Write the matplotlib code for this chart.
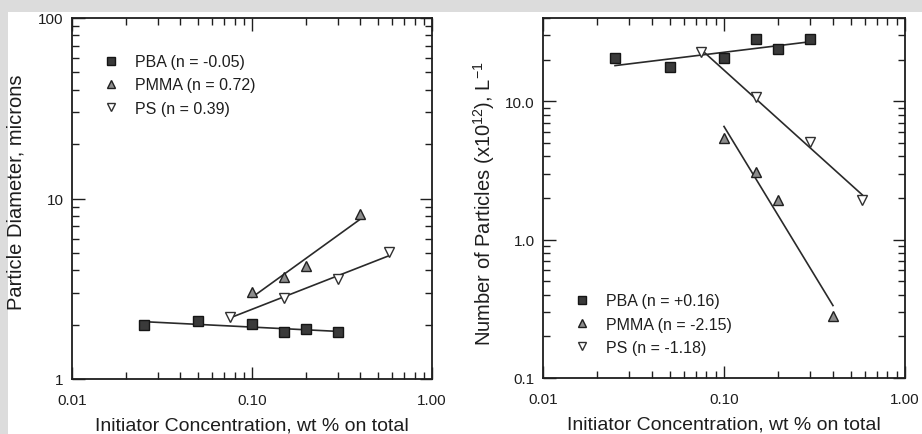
import numpy as np
import matplotlib
matplotlib.use("Agg")
import matplotlib.pyplot as plt
from matplotlib.patches import Rectangle
from matplotlib.ticker import LogLocator, NullFormatter

plt.rcParams['font.family'] = ['Liberation Sans', 'DejaVu Sans']
plt.rcParams['mathtext.default'] = 'regular'

# ---- data: initiator concentration (wt % on total) ----
x_pba = [0.025, 0.05, 0.10, 0.15, 0.20, 0.30]
x_pmma = [0.10, 0.15, 0.20, 0.40]
x_ps = [0.075, 0.15, 0.30, 0.58]

# particle diameter, microns
d_pba = [1.99, 2.10, 2.02, 1.82, 1.89, 1.82]
d_pmma = [3.03, 3.67, 4.23, 8.2]
d_ps = [2.2, 2.81, 3.58, 5.05]

# number of particles (x10^12), per litre
n_pba = [20.4, 17.6, 20.4, 28.0, 23.7, 28.0]
n_pmma = [5.4, 3.07, 1.93, 0.28]
n_ps = [22.6, 10.7, 5.1, 1.93]

# power-law exponents of the fitted lines
exp_diam = {"PBA": -0.05, "PMMA": 0.72, "PS": 0.39}
exp_num = {"PBA": 0.16, "PMMA": -2.15, "PS": -1.18}

labels_diam = ["PBA (n = -0.05)", "PMMA (n = 0.72)", "PS (n = 0.39)"]
labels_num = ["PBA (n = +0.16)", "PMMA (n = -2.15)", "PS (n = -1.18)"]

xticks = [0.01, 0.1, 1.0]
xtick_labels = ["0.01", "0.10", "1.00"]
yticks_diam = [1, 10, 100]
ytick_labels_diam = ["1", "10", "100"]
yticks_num = [0.1, 1.0, 10.0]
ytick_labels_num = ["0.1", "1.0", "10.0"]

xlabel = "Initiator Concentration, wt % on total"
ylabel_diam = "Particle Diameter, microns"
ylabel_num = "Number of Particles (x10$^{12}$), L$^{-1}$"

INK = "#1e1e1e"
styles = {
    "PBA": dict(marker="s", mfc="#3a3a3a", mec="#151515", ms=6.5),
    "PMMA": dict(marker="^", mfc="#8c8c8c", mec="#202020", ms=7),
    "PS": dict(marker="v", mfc="white", mec="#303030", ms=7),
}

fig = plt.figure(figsize=(9.22, 4.35), dpi=100, facecolor="#dcdcdc")
fig.patches.append(Rectangle((8 / 922, 0), 1 - 8 / 922, 1 - 13 / 435,
                             transform=fig.transFigure, facecolor="white",
                             edgecolor="none", zorder=-10))

ax1 = fig.add_axes([72 / 922, 55 / 435, 360 / 922, 361 / 435])
ax2 = fig.add_axes([543 / 922, 56 / 435, 362 / 922, 360 / 435])


def fit_line(ax, xs, ys, n):
    xs = np.asarray(xs, float)
    ys = np.asarray(ys, float)
    loga = np.mean(np.log10(ys) - n * np.log10(xs))
    xx = np.array([xs.min(), xs.max()])
    ax.plot(xx, 10 ** loga * xx ** n, color="#2a2a2a", lw=1.2, zorder=2)


def draw(ax, series, exps, labels):
    handles = []
    for (name, xs, ys), lab in zip(series, labels):
        fit_line(ax, xs, ys, exps[name])
        h, = ax.plot(xs, ys, ls="none", mew=1.0, zorder=3, label=lab,
                     **styles[name])
        handles.append(h)
    return handles


h1 = draw(ax1, [("PBA", x_pba, d_pba), ("PMMA", x_pmma, d_pmma),
                ("PS", x_ps, d_ps)], exp_diam, labels_diam)
h2 = draw(ax2, [("PBA", x_pba, n_pba), ("PMMA", x_pmma, n_pmma),
                ("PS", x_ps, n_ps)], exp_num, labels_num)

for ax in (ax1, ax2):
    ax.set_xscale("log")
    ax.set_yscale("log")
    ax.set_xlim(0.01, 1.0)
    ax.set_xticks(xticks)
    ax.set_xticklabels(xtick_labels)
    ax.xaxis.set_minor_locator(LogLocator(base=10, subs=np.arange(2, 10)))
    ax.yaxis.set_minor_locator(LogLocator(base=10, subs=np.arange(2, 10)))
    ax.xaxis.set_minor_formatter(NullFormatter())
    ax.yaxis.set_minor_formatter(NullFormatter())
    ax.tick_params(which="both", direction="in", top=True, right=True,
                   colors=INK, labelcolor=INK, labelsize=11, width=1.0)
    ax.tick_params(which="major", length=9, pad=6)
    ax.tick_params(axis="x", which="major", pad=10)
    ax.tick_params(which="minor", length=5)
    for sp in ax.spines.values():
        sp.set_linewidth(1.3)
        sp.set_color(INK)
    ax.set_xlabel(xlabel, fontsize=14, color=INK)
    ax.xaxis.set_label_coords(0.5, -0.103)
    ax.xaxis.label.set_va("top")

ax1.set_ylim(1, 100)
ax1.set_yticks(yticks_diam)
ax1.set_yticklabels(ytick_labels_diam)
ax1.set_ylabel(ylabel_diam, fontsize=14.5, color=INK)
ax1.yaxis.set_label_coords(-0.13, 0.52)

ax2.set_ylim(0.1, 40)
ax2.set_yticks(yticks_num)
ax2.set_yticklabels(ytick_labels_num)
ax2.set_ylabel(ylabel_num, fontsize=14.5, color=INK)
ax2.yaxis.set_label_coords(-0.128, 0.487)

leg_kw = dict(frameon=False, fontsize=11.5, handlelength=1.0,
              handletextpad=1.0, labelspacing=0.52, borderpad=0,
              borderaxespad=0, labelcolor=INK, loc="upper left",
              markerscale=0.8)
ax1.legend(handles=h1, bbox_to_anchor=(0.085, 0.90), **leg_kw)
ax2.legend(handles=h2, bbox_to_anchor=(0.085, 0.235), **leg_kw)

fig.savefig("out.png", dpi=100, facecolor=fig.get_facecolor())
